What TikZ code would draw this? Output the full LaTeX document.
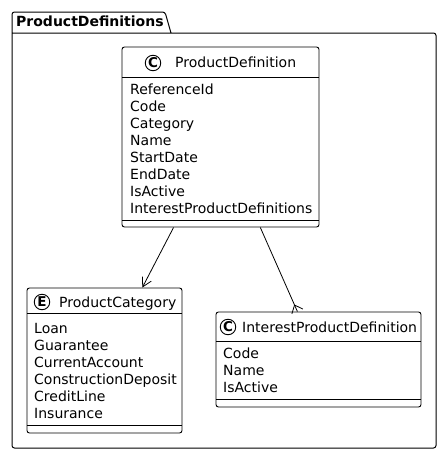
\documentclass[tikz,border=0pt]{standalone}
\usepackage{fontspec}
\setmainfont{DejaVu Sans}
\usetikzlibrary{arrows.meta,decorations.markings}
\begin{document}
\begin{tikzpicture}[x=1pt,y=-1pt,
  classbox/.style={draw, rounded corners=2.5pt, inner sep=0pt, line width=0.9pt, fill=white},
  divline/.style={line width=0.9pt},
  attr/.style={anchor=base west, inner sep=0pt, font=\fontsize{14}{17}\selectfont},
  hdr/.style={anchor=base west, inner sep=0pt, font=\fontsize{14}{17}\selectfont},
  icon/.style={circle, draw, line width=0.9pt, minimum size=15.5pt, inner sep=0pt, font=\fontsize{13.5}{13.5}\selectfont\bfseries},
  pkgtitle/.style={anchor=base west, inner sep=0pt, font=\fontsize{14}{17}\selectfont\bfseries},
  link/.style={line width=0.8pt},
  crow/.style={postaction={decorate, decoration={markings, mark=at position -7pt with {\draw[line width=0.8pt] (0pt,0pt) -- (7pt,6pt); \draw[line width=0.8pt] (0pt,0pt) -- (7pt,-6pt);}}}}
]
\useasboundingbox (0,0) rectangle (442,455);
% package
\draw[line width=1pt, rounded corners=2.5pt] (12,33) -- (436,33) -- (436,448) -- (12,448) -- (12,12) -- (165,12) -- (171,33);
\node[pkgtitle] (pkgt) at (16,27) {ProductDefinitions};

% ProductDefinition
\node[classbox, minimum width=197pt, minimum height=180pt] (pd) at (220.5,137) {};
\draw[divline] (122,77) -- (319,77);
\draw[divline] (122,220) -- (319,220);
\node[icon] (pdicon) at (153,63) {C};
\node[hdr] (pdname) at (175,67) {ProductDefinition};
\foreach \t [count=\i] in {ReferenceId,Code,Category,Name,StartDate,EndDate,IsActive,InterestProductDefinitions}
  \node[attr] (pda\i) at (130,{94+17*(\i-1)}) {\t};

% ProductCategory
\node[classbox, minimum width=155pt, minimum height=145pt] (pc) at (104.5,360.5) {};
\draw[divline] (27,313) -- (182,313);
\draw[divline] (27,425) -- (182,425);
\node[icon] (pcicon) at (42,302) {E};
\node[hdr] (pcname) at (59,307) {ProductCategory};
\foreach \t [count=\i] in {Loan,Guarantee,CurrentAccount,ConstructionDeposit,CreditLine,Insurance}
  \node[attr] (pca\i) at (34,{333+17*(\i-1)}) {\t};

% InterestProductDefinition
\node[classbox, minimum width=205pt, minimum height=95pt] (ipd) at (318.5,359.5) {};
\draw[divline] (216,341) -- (421,341);
\draw[divline] (216,399) -- (421,399);
\node[icon] (ipdicon) at (228,327) {C};
\node[hdr] (ipdname) at (242,332) {InterestProductDefinition};
\foreach \t [count=\i] in {Code,Name,IsActive}
  \node[attr] (ipda\i) at (223,{358+17*(\i-1)}) {\t};

% connectors
\draw[link, -{Straight Barb[length=9pt,width=10pt]}] (pd) -- (pc);
\draw[link, crow] (pd) -- (ipd);
\end{tikzpicture}
\end{document}
